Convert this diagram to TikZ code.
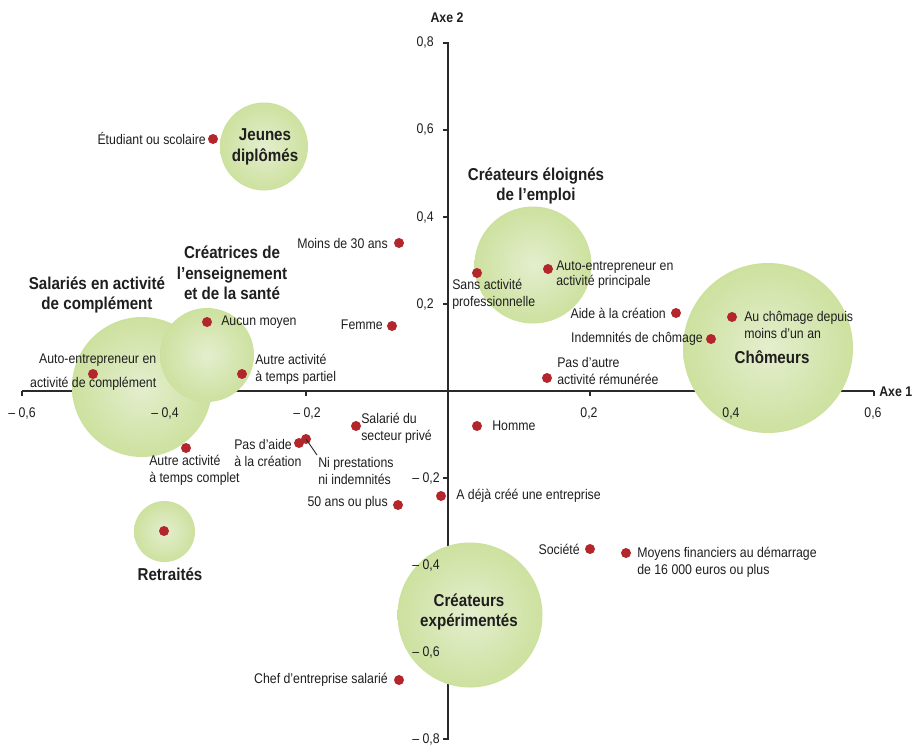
\documentclass[tikz,border=0pt]{standalone}
\usepackage{fontspec}
\setmainfont{Liberation Sans}[FakeStretch=0.88]
\definecolor{dotred}{HTML}{B2262C}
\definecolor{txt}{HTML}{1E1E1E}
\definecolor{axc}{HTML}{2A2A2A}
\definecolor{bubin}{HTML}{E4EECE}
\definecolor{bubmid}{HTML}{CBE09B}
\definecolor{bubout}{HTML}{A9CD60}
\pgfdeclareradialshading{bubble}{\pgfpointorigin}{color(0bp)=(bubin); color(27bp)=(bubmid); color(50bp)=(bubout)}
\tikzset{
  dot/.style={circle, fill=dotred, inner sep=0pt, minimum size=7.5pt},
  lbl/.style={text=txt, font=\fontsize{10.5}{12.75}\selectfont, inner sep=0pt, align=left},
  lblr/.style={lbl, align=right, anchor=east},
  lbll/.style={lbl, anchor=west},
  ttl/.style={text=txt, font=\fontsize{12.9}{15.4}\selectfont\bfseries, inner sep=0pt, align=center},
  tick/.style={text=txt, font=\fontsize{10.5}{12.75}\selectfont, inner sep=0pt},
  axline/.style={draw=axc, line width=1.1pt},
  bub/.style={circle, inner sep=0pt, shading=bubble, draw=none},
}
\begin{document}
\begin{tikzpicture}[x=0.75pt, y=-0.75pt]
\useasboundingbox (0,0) rectangle (916,747);
% axes
\coordinate (xl) at (22,391);
\coordinate (xr) at (874,391);
\coordinate (yt) at (448,43);
\coordinate (yb) at (448,739);
\draw[axline] (xl) -- (xr);
\draw[axline] (yt) -- (yb);
\foreach \x in {22,164,306,590,732,874} \draw[axline] (\x,390.5) -- (\x,396);
\foreach \y in {43,130,217,304,478,565,652,739} \draw[axline] (443,\y) -- (448.5,\y);
\node[ttl, font=\fontsize{10.5}{12.75}\selectfont\bfseries, anchor=west] (axe1) at (879,392) {Axe 1};
\node[ttl, font=\fontsize{10.5}{12.75}\selectfont\bfseries] (axe2) at (447,18) {Axe 2};
% bubbles
\node[bub, minimum size=105pt] (cSal) at (142,387) {};
\node[bub, minimum size=70.5pt] (cCrea) at (207,355) {};
\node[bub, minimum size=66pt] (cJeu) at (264,146.5) {};
\node[bub, minimum size=87.75pt] (cElo) at (533,265) {};
\node[bub, minimum size=127.5pt] (cCho) at (768,348) {};
\node[bub, minimum size=45.75pt] (cRet) at (164.5,531.5) {};
\node[bub, minimum size=108.75pt] (cExp) at (470,615) {};
% tick labels (above bubbles)
\node[tick] (tx1) at (22,413) {– 0,6};
\node[tick] (tx2) at (165,413) {– 0,4};
\node[tick] (tx3) at (307,413) {– 0,2};
\node[tick] (tx4) at (589,413) {0,2};
\node[tick] (tx5) at (731,413) {0,4};
\node[tick] (tx6) at (873,413) {0,6};
\node[tick, anchor=east] (ty1) at (434,43) {0,8};
\node[tick, anchor=east] (ty2) at (434,130) {0,6};
\node[tick, anchor=east] (ty3) at (434,217) {0,4};
\node[tick, anchor=east] (ty4) at (434,304) {0,2};
\node[tick, anchor=east] (ty5) at (440,478) {– 0,2};
\node[tick, anchor=east] (ty6) at (440,565) {– 0,4};
\node[tick, anchor=east] (ty7) at (440,652) {– 0,6};
\node[tick, anchor=east] (ty8) at (440,739) {– 0,8};
% titles
\node[ttl] (tJeu) at (265,147) {Jeunes\\diplômés};
\node[ttl] (tElo) at (536,186) {Créateurs éloignés\\de l’emploi};
\node[ttl] (tCrea) at (232,273) {Créatrices de\\l’enseignement\\et de la santé};
\node[ttl] (tSal) at (97,295) {Salariés en activité\\de complément};
\node[ttl] (tCho) at (772,357) {Chômeurs};
\node[ttl] (tRet) at (170,574) {Retraités};
\node[ttl] (tExp) at (469,612) {Créateurs\\expérimentés};
% points
\node[dot] (p1) at (213,139) {};
\node[lblr] (l1) at (206,138) {Étudiant ou scolaire};
\node[dot] (p2) at (399,243) {};
\node[lblr] (l2) at (388,243) {Moins de 30 ans};
\node[dot] (p3) at (392,326) {};
\node[lblr] (l3) at (383,325) {Femme};
\node[dot] (p4) at (207,322) {};
\node[lbll] (l4) at (221,322) {Aucun moyen};
\node[dot] (p5) at (242,374) {};
\node[lbll] (l5) at (255,369.5) {Autre activité\\à temps partiel};
\node[dot] (p6) at (93,374) {};
\node[lblr] (l6a) at (156.5,360) {Auto-entrepreneur en};
\node[lblr] (l6b) at (156.5,384) {activité de complément};
\node[dot] (p7) at (186,448) {};
\node[lbll] (l7) at (149,470) {Autre activité\\à temps complet};
\node[dot] (p8) at (299,443) {};
\node[lbll] (l8) at (234,452.5) {Pas d’aide\\à la création};
\node[dot] (p9) at (306,439) {};
\node[lbll] (l9) at (318,471) {Ni prestations\\ni indemnités};
\coordinate (lead9) at (317,455);
\draw[axc, line width=0.7pt] (p9.center) -- (lead9);
\node[dot] (p10) at (356,426) {};
\node[lbll] (l10) at (361,428) {Salarié du\\secteur privé};
\node[dot] (p11) at (477,426) {};
\node[lbll] (l11) at (492,426) {Homme};
\node[dot] (p12) at (441,496) {};
\node[lbll] (l12) at (456,496) {A déjà créé une entreprise};
\node[dot] (p13) at (398,505) {};
\node[lblr] (l13) at (388,503) {50 ans ou plus};
\node[dot] (p14) at (590,549) {};
\node[lblr] (l14) at (580,549) {Société};
\node[dot] (p15) at (626,553) {};
\node[lbll] (l15) at (637,562) {Moyens financiers au démarrage\\de 16 000 euros ou plus};
\node[dot] (p16) at (399,680) {};
\node[lblr] (l16) at (388,680) {Chef d’entreprise salarié};
\node[dot] (p17) at (477,273) {};
\node[lbll] (l17) at (452,294.5) {Sans activité\\professionnelle};
\node[dot] (p18) at (548,269) {};
\node[lbll, font=\fontsize{10.5}{11.2}\selectfont] (l18) at (556,274.5) {Auto-entrepreneur en\\activité principale};
\node[dot] (p19) at (676,313) {};
\node[lblr] (l19) at (666,313) {Aide à la création};
\node[dot] (p20) at (711,339) {};
\node[lblr] (l20) at (703,339) {Indemnités de chômage};
\node[dot] (p21) at (547,378) {};
\node[lbll] (l21) at (557,371) {Pas d’autre\\activité rémunérée};
\node[dot] (p22) at (732,317) {};
\node[lbll] (l22) at (744,325) {Au chômage depuis\\moins d’un an};
\node[dot] (p23) at (164,531) {};
\end{tikzpicture}
\end{document}
